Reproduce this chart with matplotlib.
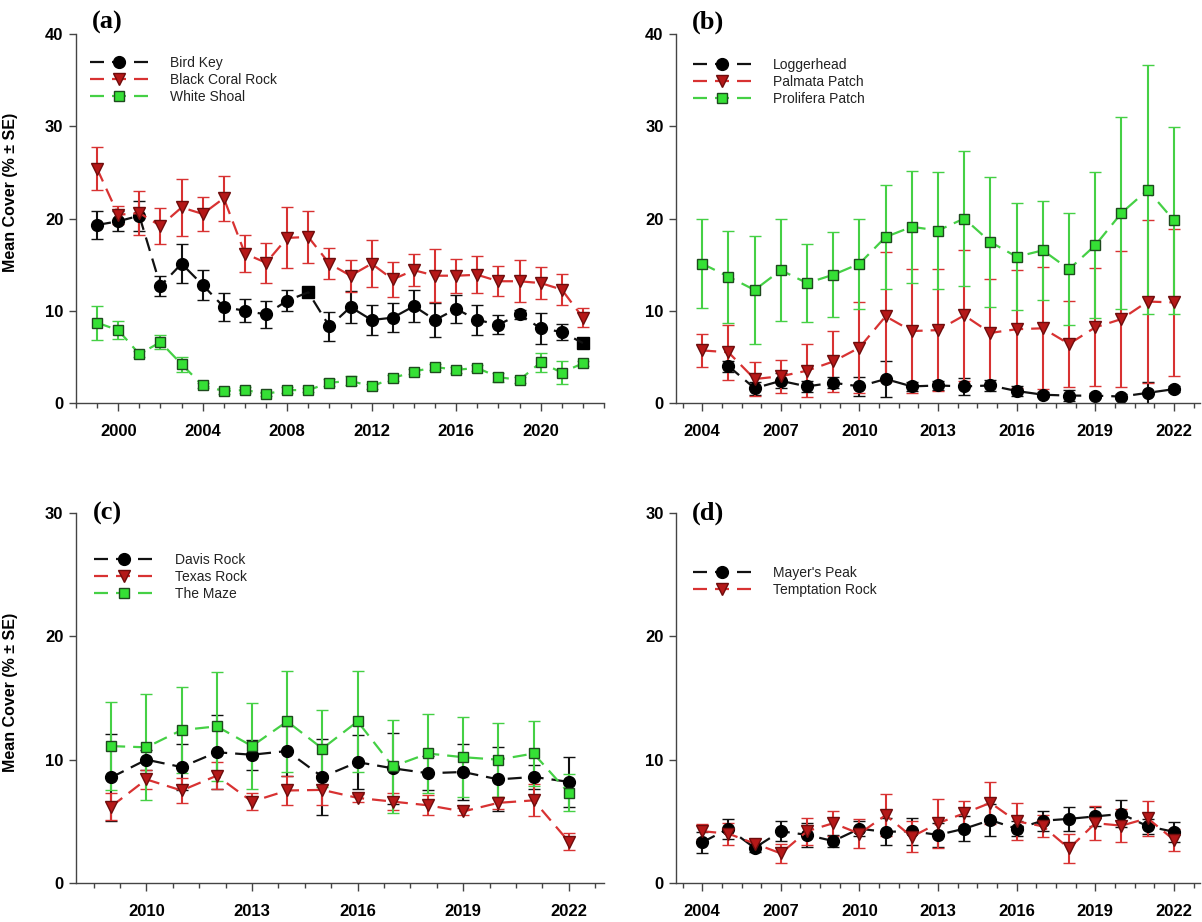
import matplotlib.pyplot as plt
from matplotlib.ticker import MultipleLocator
import numpy as np

plt.rcParams["font.family"] = ["Liberation Sans", "DejaVu Sans"]

# (a) 1999-2022
years_a = np.arange(1999, 2023)
bird_key = [19.3, 19.7, 20.3, 12.7, 15.1, 12.8, 10.4, 10.0, 9.6, 11.1, 12.0, 8.3,
            10.4, 9.0, 9.25, 10.5, 9.0, 10.2, 9.0, 8.5, 9.6, 8.1, 7.7, 6.5]
bird_key_se = [1.5, 1.1, 1.6, 1.1, 2.1, 1.6, 1.5, 1.25, 1.45, 1.1, 0.2, 1.55,
               1.75, 1.6, 1.6, 1.75, 1.85, 1.5, 1.6, 1.0, 0.5, 1.65, 0.85, 0.2]
black_coral = [25.4, 20.4, 20.6, 19.2, 21.2, 20.5, 22.2, 16.2, 15.2, 17.9, 18.0, 15.1,
               13.8, 15.1, 13.4, 14.4, 13.8, 13.8, 13.9, 13.2, 13.2, 13.0, 12.3, 9.25]
black_coral_se = [2.3, 1.0, 2.4, 1.95, 3.1, 1.85, 2.45, 2.0, 2.15, 3.3, 2.85, 1.65,
                  1.75, 2.55, 1.9, 1.7, 2.9, 1.85, 2.0, 1.6, 2.3, 1.7, 1.7, 1.0]
white_shoal = [8.7, 7.9, 5.3, 6.6, 4.2, 1.9, 1.3, 1.4, 1.0, 1.4, 1.4, 2.2,
               2.4, 1.8, 2.7, 3.4, 3.9, 3.6, 3.8, 2.8, 2.5, 4.4, 3.3, 4.3]
white_shoal_se = [1.85, 0.95, 0.3, 0.75, 0.8, 0.3, 0.3, 0.3, 0.2, 0.3, 0.2, 0.4,
                  0.5, 0.3, 0.3, 0.3, 0.3, 0.3, 0.3, 0.5, 0.3, 1.0, 1.25, 0.3]
bird_key_square_idx = [10, 23]

# (b) 2004-2022
years_b = np.arange(2004, 2023)
loggerhead = [np.nan, 4.0, 1.6, 2.4, 1.8, 2.2, 1.8, 2.6, 1.8, 1.9, 1.8, 1.9,
              1.3, 0.9, 0.8, 0.8, 0.7, 1.1, 1.5]
loggerhead_se = [np.nan, 0.6, 0.7, 0.8, 0.6, 0.6, 1.05, 1.95, 0.5, 0.5, 0.9, 0.6,
                 0.5, 0.3, 0.6, 0.3, 0.3, 1.2, 0.3]
palmata = [5.7, 5.5, 2.6, 2.9, 3.5, 4.5, 6.0, 9.4, 7.8, 7.9, 9.5, 7.6,
           8.0, 8.1, 6.4, 8.2, 9.1, 11.0, 10.9]
palmata_se = [1.8, 3.0, 1.8, 1.8, 2.9, 3.3, 4.9, 7.0, 6.7, 6.6, 7.1, 5.8,
              6.4, 6.6, 4.7, 6.4, 7.4, 8.8, 8.0]
prolifera = [15.1, 13.7, 12.25, 14.4, 13.0, 13.9, 15.1, 18.0, 19.1, 18.7, 20.0, 17.45,
             15.85, 16.55, 14.5, 17.1, 20.6, 23.1, 19.8]
prolifera_se = [4.8, 5.0, 5.85, 5.5, 4.2, 4.6, 4.9, 5.6, 6.1, 6.3, 7.3, 7.0,
                5.8, 5.4, 6.05, 7.9, 10.4, 13.5, 10.1]

# (c) 2009-2022
years_c = np.arange(2009, 2023)
davis = [8.56, 10.0, 9.4, 10.6, 10.4, 10.7, 8.6, 9.8, 9.3, 8.9, 9.0, 8.4, 8.6, 8.2]
davis_se = [3.5, 0.8, 1.9, 3.0, 1.2, 2.0, 3.1, 2.2, 2.9, 1.4, 2.3, 2.6, 1.0, 2.0]
texas = [6.2, 8.4, 7.5, 8.7, 6.6, 7.5, 7.55, 6.9, 6.6, 6.3, 5.8, 6.5, 6.7, 3.35]
texas_se = [1.1, 0.8, 1.0, 1.1, 0.7, 1.15, 1.2, 0.3, 0.7, 0.8, 0.3, 0.5, 1.3, 0.7]
maze = [11.1, 11.0, 12.4, 12.7, 11.1, 13.1, 10.9, 13.1, 9.45, 10.5, 10.2, 10.0, 10.5, 7.3]
maze_se = [3.6, 4.3, 3.5, 4.4, 3.5, 4.1, 3.1, 4.1, 3.75, 3.2, 3.25, 3.0, 2.6, 1.5]

# (d) 2004-2022
years_d = np.arange(2004, 2023)
mayers = [3.3, 4.4, 2.85, 4.2, 3.9, 3.4, 4.4, 4.15, 4.2, 3.9, 4.4, 5.1,
          4.4, 5.05, 5.2, 5.4, 5.6, 4.6, 4.15]
mayers_se = [0.85, 0.8, 0.35, 0.8, 1.0, 0.5, 0.6, 1.1, 1.1, 1.0, 1.0, 1.3,
             0.6, 0.8, 1.0, 0.8, 1.1, 0.6, 0.8]
temptation = [4.2, 4.0, 3.2, 2.4, 4.2, 4.85, 4.0, 5.5, 3.75, 4.85, 5.65, 6.5,
              5.0, 4.6, 2.8, 4.85, 4.65, 5.25, 3.5]
temptation_se = [0.6, 0.9, 0.4, 0.75, 1.1, 1.0, 1.2, 1.7, 1.25, 2.0, 1.0, 1.7,
                 1.5, 0.9, 1.15, 1.4, 1.35, 1.4, 0.9]

STYLES = {
    "black": dict(color="#111111", marker="o", ms=8.5, mfc="#000000", mec="#000000"),
    "red": dict(color="#d83232", marker="v", ms=9, mfc="#b51818", mec="#6e0c0c"),
    "green": dict(color="#45d045", marker="s", ms=7.5, mfc="#35e035", mec="#1e4a1e"),
}
# long dash, medium gap (scaled by linewidth)
DASH = (0, (6.3, 3.6))


def draw_site(ax, x, mean, se, style, markevery=None):
    st = STYLES[style]
    c = ax.errorbar(x, mean, yerr=se, color=st["color"], ls=DASH, lw=1.6,
                    marker=st["marker"], ms=st["ms"], mfc=st["mfc"], mec=st["mec"],
                    mew=1.0, ecolor=st["color"], elinewidth=1.5, capsize=4.5,
                    capthick=1.5, markevery=markevery)
    return c[0]


def style_axis(ax, xlim, ylim, major, minor):
    ax.set_xlim(*xlim)
    ax.set_ylim(*ylim)
    ax.set_yticks(np.arange(ylim[0], ylim[1] + 1, 10))
    ax.xaxis.set_major_locator(MultipleLocator(major))
    ax.xaxis.set_minor_locator(MultipleLocator(minor))
    for side in ["top", "right"]:
        ax.spines[side].set_visible(False)
    for side in ["left", "bottom"]:
        ax.spines[side].set_color("#444444")
        ax.spines[side].set_linewidth(1.0)
    ax.tick_params(axis="x", which="major", direction="out", length=6, width=1.0,
                   pad=9, color="#444444")
    ax.tick_params(axis="x", which="minor", direction="out", length=3.5, width=1.0,
                   color="#444444")
    ax.tick_params(axis="y", which="major", direction="out", length=5, width=1.0,
                   pad=4, color="#444444")
    for t in ax.get_xticklabels() + ax.get_yticklabels():
        t.set_fontsize(12)
        t.set_fontweight("bold")


def add_legend(ax, handles, labels, x, y):
    ax.legend(handles, labels, loc="upper left", bbox_to_anchor=(x, y),
              frameon=False, fontsize=10, handlelength=4.2, handletextpad=1.6,
              labelspacing=0.22, borderpad=0, borderaxespad=0, labelcolor="#222222")


fig = plt.figure(figsize=(12.02, 9.22), dpi=100)
ax_a = fig.add_axes([0.0632, 0.5629, 0.4393, 0.4002])
ax_b = fig.add_axes([0.5624, 0.5629, 0.4360, 0.4002])
ax_c = fig.add_axes([0.0632, 0.0423, 0.4393, 0.4013])
ax_d = fig.add_axes([0.5624, 0.0423, 0.4360, 0.4013])

# (a)
circle_idx = [i for i in range(len(years_a)) if i not in bird_key_square_idx]
h1 = draw_site(ax_a, years_a, bird_key, bird_key_se, "black", markevery=circle_idx)
ax_a.plot(years_a[bird_key_square_idx], np.array(bird_key)[bird_key_square_idx],
          ls="none", marker="s", ms=8, mfc="black", mec="black")
h2 = draw_site(ax_a, years_a, black_coral, black_coral_se, "red")
h3 = draw_site(ax_a, years_a, white_shoal, white_shoal_se, "green")
style_axis(ax_a, (1998, 2023), (0, 40), 4, 1)
add_legend(ax_a, [h1, h2, h3], ["Bird Key", "Black Coral Rock", "White Shoal"],
           0.026, 0.94)

# (b)
h1 = draw_site(ax_b, years_b, loggerhead, loggerhead_se, "black")
h2 = draw_site(ax_b, years_b, palmata, palmata_se, "red")
h3 = draw_site(ax_b, years_b, prolifera, prolifera_se, "green")
style_axis(ax_b, (2003, 2023), (0, 40), 3, 0.75)
add_legend(ax_b, [h1, h2, h3], ["Loggerhead", "Palmata Patch", "Prolifera Patch"],
           0.032, 0.936)

# (c)
h1 = draw_site(ax_c, years_c, davis, davis_se, "black")
h2 = draw_site(ax_c, years_c, texas, texas_se, "red")
h3 = draw_site(ax_c, years_c, maze, maze_se, "green")
style_axis(ax_c, (2008, 2023), (0, 30), 3, 0.75)
add_legend(ax_c, [h1, h2, h3], ["Davis Rock", "Texas Rock", "The Maze"],
           0.035, 0.892)

# (d)
h1 = draw_site(ax_d, years_d, mayers, mayers_se, "black")
h2 = draw_site(ax_d, years_d, temptation, temptation_se, "red")
style_axis(ax_d, (2003, 2023), (0, 30), 3, 0.75)
add_legend(ax_d, [h1, h2], ["Mayer's Peak", "Temptation Rock"], 0.032, 0.857)

for ax in (ax_a, ax_c):
    ax.set_ylabel("Mean Cover (% \u00b1 SE)", fontsize=11.5, fontweight="bold")
ax_a.yaxis.set_label_coords(-0.11, 0.57)
ax_c.yaxis.set_label_coords(-0.11, 0.514)

panel_labels = ["(a)", "(b)", "(c)", "(d)"]
label_pos = [(107, 22), (708, 22), (107, 513), (708, 513)]
for lab, (px, py) in zip(panel_labels, label_pos):
    fig.text(px / 1202, 1 - py / 922, lab, ha="center", va="center", fontsize=19,
             fontweight="bold", family=["Liberation Serif", "DejaVu Serif"])

fig.savefig("out.png", dpi=100)
